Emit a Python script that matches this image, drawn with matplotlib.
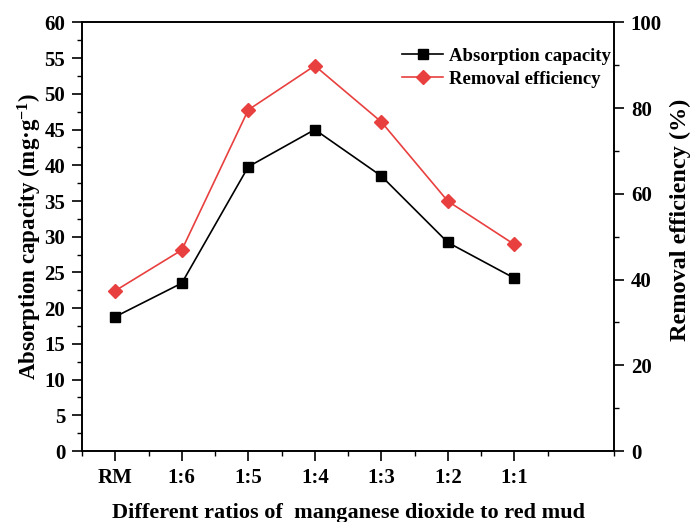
import matplotlib
matplotlib.use("Agg")
import matplotlib.pyplot as plt
from matplotlib.ticker import MultipleLocator

plt.rcParams["font.family"] = ["Liberation Serif", "DejaVu Serif"]
plt.rcParams["font.weight"] = "bold"
plt.rcParams["mathtext.fontset"] = "custom"
plt.rcParams["mathtext.rm"] = "Liberation Serif:bold"
plt.rcParams["mathtext.bf"] = "Liberation Serif:bold"
plt.rcParams["mathtext.default"] = "bf"

ratios = ["RM", "1:6", "1:5", "1:4", "1:3", "1:2", "1:1"]
capacity = [18.8, 23.5, 39.8, 45.0, 38.5, 29.2, 24.2]  # mg/g
efficiency = [37.4, 46.9, 79.6, 89.9, 76.8, 58.3, 48.2]  # %

RED = "#e8403f"

fig = plt.figure(figsize=(6.91, 5.22), dpi=100)
ax = fig.add_axes([0.1187, 0.136, 0.770, 0.821])
ax2 = ax.twinx()

x = list(range(len(ratios)))
l1, = ax.plot(x, capacity, color="black", lw=1.2, marker="s", ms=7.5,
              label="Absorption capacity")
l2, = ax2.plot(x, efficiency, color=RED, lw=1.2, marker="D", ms=7,
               label="Removal efficiency")

ax.set_xlim(-0.5, 7.5)
ax.set_xticks(x)
ax.set_xticklabels(ratios)
ax.xaxis.set_minor_locator(MultipleLocator(1, offset=0.5))
ax.set_ylim(0, 60)
ax.yaxis.set_major_locator(MultipleLocator(5))
ax.yaxis.set_minor_locator(MultipleLocator(2.5))
ax2.set_ylim(0, 100)
ax2.yaxis.set_major_locator(MultipleLocator(20))
ax2.yaxis.set_minor_locator(MultipleLocator(10))

for a in (ax, ax2):
    a.tick_params(which="major", direction="out", length=7, width=1.2,
                  labelsize=15, pad=5)
    a.tick_params(which="minor", direction="out", length=3.5, width=1.0)
    for s in a.spines.values():
        s.set_linewidth(1.2)
ax.tick_params(axis="x", pad=5)

ax.set_ylabel("Absorption capacity (mg·g$^{-1}$)", fontsize=16.5,
              fontweight="bold", labelpad=0)
ax2.set_ylabel("Removal efficiency (%)", fontsize=17.5, fontweight="bold",
               labelpad=6)
ax2.yaxis.label.set_y(0.54)
ax.set_xlabel("Different ratios of  manganese dioxide to red mud",
              fontsize=16, fontweight="bold", labelpad=11)

ax.legend(handles=[l1, l2], loc="upper left", bbox_to_anchor=(0.57, 0.98),
          frameon=False, prop={"size": 13.5, "weight": "bold"},
          handlelength=2.2, handletextpad=0.3, labelspacing=0.3)

fig.savefig("out.png", dpi=100)
